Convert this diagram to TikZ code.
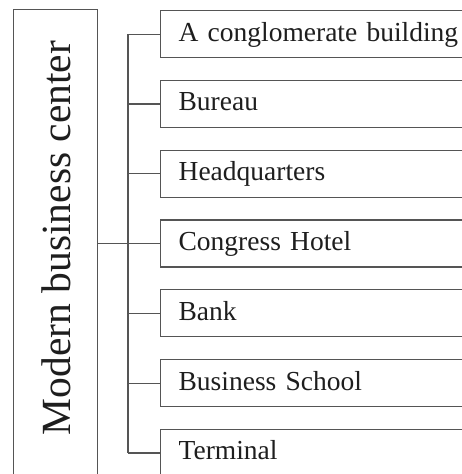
\documentclass[tikz,border=0pt]{standalone}
\usepackage{fontspec}
\setmainfont{Liberation Serif}
\definecolor{linegray}{HTML}{555555}
\definecolor{textdark}{HTML}{1E1E1E}
\begin{document}
\begin{tikzpicture}[x=1pt,y=1pt,
  itembox/.style={draw=linegray, line width=1.3pt, rectangle, anchor=north west,
    minimum height=47pt, text width=292pt, inner xsep=18pt, align=left,
    text height=19pt, text depth=5pt, font=\fontsize{27.5}{31}\selectfont, text=textdark},
  conn/.style={draw=linegray, line width=1.2pt}]
\useasboundingbox (0,0) rectangle (462,474);
\clip (0,0) rectangle (462,474);
\fill[white] (0,0) rectangle (462,474);
% main box
\node[draw=linegray, line width=1.3pt, rectangle, anchor=north west, minimum width=84pt, minimum height=480pt, inner sep=0pt] (mainbox) at (13,465) {};
\node[rotate=90, anchor=base, font=\fontsize{41.5}{45}\selectfont, text=textdark, inner sep=0pt] (title) at (70,236) {Modern business center};
% item boxes
\node[itembox] (b1) at (160,464) {A conglomerate building};
\node[itembox] (b2) at (160,394.2) {Bureau};
\node[itembox] (b3) at (160,324.4) {Headquarters};
\node[itembox] (b4) at (160,254.6) {Congress Hotel};
\node[itembox] (b5) at (160,184.8) {Bank};
\node[itembox] (b6) at (160,115) {Business School};
\node[itembox] (b7) at (160,45.2) {Terminal};
% tree
\coordinate (spine) at (128,0);
\draw[conn] (spine |- b1.west) -- (spine |- b7.west);
\foreach \i in {1,...,7} {\draw[conn] (spine |- b\i.west) -- (b\i.west);}
\draw[conn] (mainbox.east |- b4.west) -- (spine |- b4.west);
\end{tikzpicture}
\end{document}
